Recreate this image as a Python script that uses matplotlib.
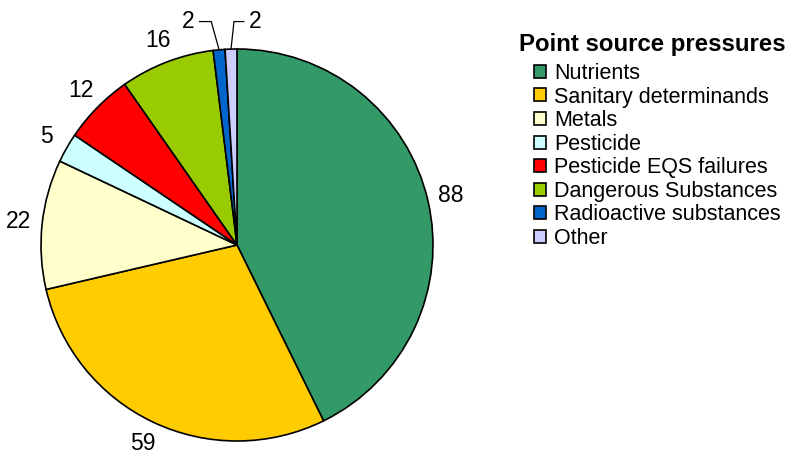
import matplotlib.pyplot as plt
import numpy as np

plt.rcParams['font.family'] = ['Liberation Sans', 'DejaVu Sans']

categories = ['Nutrients', 'Sanitary determinands', 'Metals', 'Pesticide',
              'Pesticide EQS failures', 'Dangerous Substances',
              'Radioactive substances', 'Other']
values = [88, 59, 22, 5, 12, 16, 2, 2]
colours = ['#339966', '#FFCC00', '#FFFFCC', '#CCFFFF',
           '#FF0000', '#99CC00', '#0066CC', '#CCCCFF']

fig = plt.figure(figsize=(7.88, 4.58), dpi=100)
# pie area in pixels: x 41..433, y 49..441 (from top)
ax = fig.add_axes([41 / 788, (458 - 441) / 458, 392 / 788, 392 / 458])

wedges, texts = ax.pie(values, colors=colours, startangle=90, counterclock=False,
                       labels=[str(v) for v in values], labeldistance=1.12,
                       wedgeprops=dict(edgecolor='black', linewidth=1.2),
                       textprops=dict(fontsize=16.5))
ax.set_xlim(-1, 1)
ax.set_ylim(-1, 1)
ax.set_aspect('equal')

for t in texts:
    t.set_ha('center')
    t.set_va('center')

# the two tiny slices get leader lines
for i, side in [(6, -1), (7, 1)]:
    w = wedges[i]
    ang = np.deg2rad((w.theta1 + w.theta2) / 2)
    x0, y0 = np.cos(ang), np.sin(ang)
    yk = 1.14
    xk = x0 - 0.04 if side < 0 else x0 + 0.015
    xe = xk + (-0.06 if side < 0 else 0.05)
    ax.plot([x0, xk, xe], [y0, yk, yk], color='black', lw=0.9, clip_on=False)
    texts[i].set_position((xe + 0.06 * side, yk))

fig.text(519 / 788, 1 - 45 / 458, 'Point source pressures', fontsize=17.3,
         fontweight='bold', va='center', ha='left')

leg = fig.legend(wedges, categories, loc='upper left',
                 bbox_to_anchor=(534 / 788, 1 - 63 / 458),
                 frameon=False, fontsize=15.5,
                 handlelength=0.55, handleheight=0.55, handletextpad=0.4,
                 labelspacing=0.12, borderaxespad=0, borderpad=0)
for h in leg.legend_handles:
    h.set_linewidth(1.2)

fig.savefig('out.png', dpi=100)
